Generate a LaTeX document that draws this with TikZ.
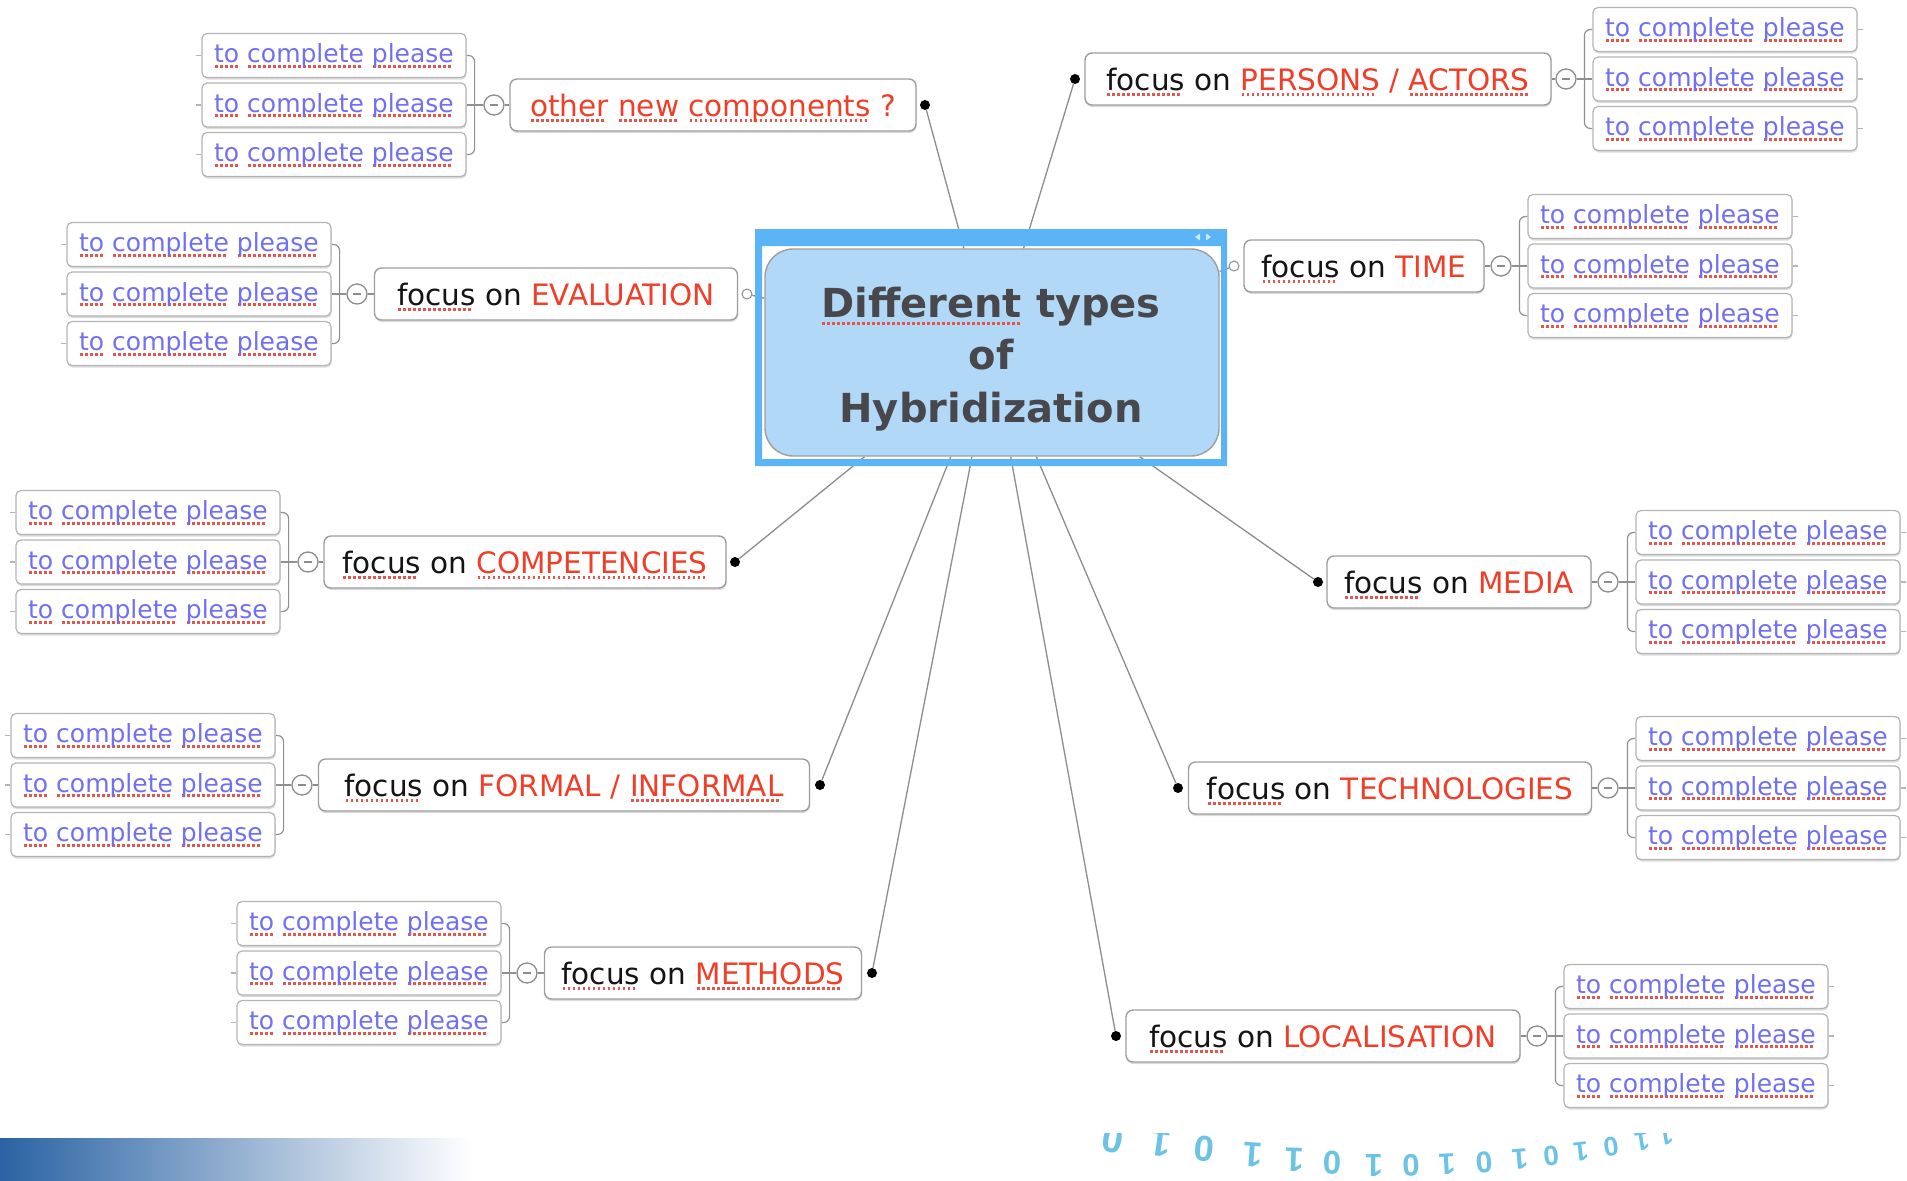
\documentclass[tikz,border=0pt]{standalone}
\usepackage{fontspec}
\setmainfont{DejaVu Sans}
\newfontfamily\bitfont{Liberation Sans}
\usetikzlibrary{shadows,backgrounds}

\definecolor{leafblue}{RGB}{112,112,242}
\definecolor{keyred}{RGB}{240,62,40}
\definecolor{inkblack}{RGB}{20,20,20}
\definecolor{squigred}{RGB}{228,86,76}
\definecolor{boxgray}{RGB}{158,158,158}
\definecolor{leafgray}{RGB}{180,180,180}
\definecolor{linkgray}{RGB}{140,140,140}
\definecolor{hubfill}{RGB}{178,216,248}
\definecolor{hubtext}{RGB}{72,72,76}
\definecolor{framblue}{RGB}{90,180,245}
\definecolor{barblue}{RGB}{42,99,163}
\definecolor{digitblue}{RGB}{108,195,227}

% dotted spell-check style underline under one word
\newsavebox\squigbox
\newcommand\sq[1]{\sbox\squigbox{#1}\leavevmode
  \rlap{\raisebox{-0.2em}[0pt][0pt]{\color{squigred}\hbox to \wd\squigbox{%
    \leaders\hbox to 5pt{\hss\rule{2.8pt}{2.6pt}\hss}\hfill}}}\usebox\squigbox}
\newcommand\leaftext{\sq{to} \sq{complete} \sq{please}}

% three child boxes of one branch: prefix, x, middle y
\newcommand\leafgroup[3]{%
  \node[leaf] (#1a) at (#2,#3-49.5) {\leaftext};
  \node[leaf] (#1b) at (#2,#3) {\leaftext};
  \node[leaf] (#1c) at (#2,#3+49.5) {\leaftext};}

\begin{document}
\begin{tikzpicture}[x=1pt,y=-1pt,
  leaf/.style={draw=leafgray, line width=1.2pt, fill=white, rounded corners=5pt,
    minimum width=264pt, minimum height=44pt, inner sep=0pt,
    text height=20pt, text depth=6pt, font=\fontsize{25}{30}\selectfont, text=leafblue,
    drop shadow={shadow xshift=0.5pt, shadow yshift=-2pt, opacity=0.14, fill=black}},
  branch/.style={draw=boxgray, line width=1.4pt, fill=white, rounded corners=7pt,
    minimum height=52pt, inner sep=0pt, text height=30pt, text depth=8pt,
    font=\fontsize{29.5}{34}\selectfont, text=inkblack,
    drop shadow={shadow xshift=0.5pt, shadow yshift=-2pt, opacity=0.14, fill=black}},
  hub/.style={draw=boxgray, line width=1.4pt, fill=hubfill, rounded corners=28pt,
    minimum width=454pt, minimum height=207pt, inner sep=0pt},
  hubfont/.style={font=\bfseries\fontsize{40}{46}\selectfont, text=hubtext, inner sep=0pt},
  toggle/.style={circle, draw=linkgray, line width=1.3pt, fill=white, minimum size=20pt,
    inner sep=0pt, path picture={\draw[linkgray, line width=2pt]
      ([xshift=-4pt]path picture bounding box.center) --
      ([xshift=4pt]path picture bounding box.center);}},
  jdot/.style={circle, fill=black, minimum size=10pt, inner sep=0pt},
  hdot/.style={circle, draw=linkgray, line width=1pt, fill=white, minimum size=10pt, inner sep=0pt},
  link/.style={linkgray, line width=1.3pt},
  twig/.style={leafgray!80!black, line width=1.2pt, rounded corners=6pt},
  stub/.style={leafgray, line width=1.1pt},
  digit/.style={text=digitblue, inner sep=0pt}
]
\useasboundingbox (0,0) rectangle (1907,1181);

% ---- gradient bar at the foot ----
\shade[left color=barblue, middle color=barblue!50!white, right color=white]
  (0,1138) rectangle (472,1181);

% ---- arc of binary digits ----
\begin{scope}
  \clip (800,1133) rectangle (1800,1181);
  \foreach \x/\y/\r/\s/\d [count=\i] in {
      1113/1140/170/38/0, 1161/1144/172/37/1, 1204/1149/174/36/0, 1253/1155/176/35/1,
      1295/1160/178/34/1, 1332/1163/179/33/0, 1374/1165/180/32/1, 1411/1165/181/31/0,
      1447/1164/183/30/1, 1484/1162/184/30/0, 1520/1159/185/29/1, 1551/1156/186/28/0,
      1581/1152/187/27/1, 1611/1147/188/27/0, 1642/1141/189/26/1, 1666/1136/190/25/1}
    \node[digit, rotate=\r, font=\bitfont\bfseries\fontsize{\s}{\s}\selectfont]
      (bit\i) at (\x,\y) {\d};
\end{scope}

% ---- central topic ----
\node[hub] (hub) at (992,352.5) {};
\fill[framblue, even odd rule] (755,229) rectangle (1227,466) (762,246) rectangle (1221,459);
\fill[white!70!framblue] (1195,237) -- (1200,233.5) -- (1200,240.5) -- cycle;
\fill[white!70!framblue] (1206,233.5) -- (1211,237) -- (1206,240.5) -- cycle;
\node[hubfont, anchor=base] (hubl1) at (991,317) {\sq{Different} types};
\node[hubfont, anchor=base] (hubl2) at (991,369) {of};
\node[hubfont, anchor=base] (hubl3) at (991,422) {Hybridization};

% ---- main branches ----
\node[branch, minimum width=406pt] (A) at (713,105)
  {\textcolor{keyred}{\sq{other} \sq{new} \sq{components} ?}};
\node[branch, minimum width=466pt] (B) at (1318,79)
  {\sq{focus} on \textcolor{keyred}{\sq{PERSONS} / \sq{ACTORS}}};
\node[branch, minimum width=240pt] (C) at (1364,266)
  {\sq{focus} on \textcolor{keyred}{TIME}};
\node[branch, minimum width=363pt] (D) at (556,294)
  {\sq{focus} on \textcolor{keyred}{EVALUATION}};
\node[branch, minimum width=402pt] (E) at (525,562)
  {\sq{focus} on \textcolor{keyred}{\sq{COMPETENCIES}}};
\node[branch, minimum width=264pt] (F) at (1459,582)
  {\sq{focus} on \textcolor{keyred}{MEDIA}};
\node[branch, minimum width=491pt] (G) at (564,785)
  {\sq{focus} on \textcolor{keyred}{FORMAL / \sq{INFORMAL}}};
\node[branch, minimum width=403pt] (H) at (1390,788)
  {\sq{focus} on \textcolor{keyred}{TECHNOLOGIES}};
\node[branch, minimum width=317pt] (I) at (703,973)
  {\sq{focus} on \textcolor{keyred}{\sq{METHODS}}};
\node[branch, minimum width=394pt] (J) at (1323,1036)
  {\sq{focus} on \textcolor{keyred}{LOCALISATION}};

% ---- attachment dots on the hub side ----
\node[jdot] (Adot) at (925,105) {};
\node[jdot] (Bdot) at (1075,79) {};
\node[hdot] (Cdot) at (1234,266) {};
\node[hdot] (Ddot) at (747,294) {};
\node[jdot] (Edot) at (735,562) {};
\node[jdot] (Fdot) at (1318,582) {};
\node[jdot] (Gdot) at (820,785) {};
\node[jdot] (Hdot) at (1178,788) {};
\node[jdot] (Idot) at (872,973) {};
\node[jdot] (Jdot) at (1116,1036) {};

% ---- collapse toggles ----
\node[toggle] (Atog) at (494,105) {};
\node[toggle] (Btog) at (1566,79) {};
\node[toggle] (Ctog) at (1501,266) {};
\node[toggle] (Dtog) at (357,294) {};
\node[toggle] (Etog) at (308,562) {};
\node[toggle] (Ftog) at (1608,582) {};
\node[toggle] (Gtog) at (302,785) {};
\node[toggle] (Htog) at (1608,788) {};
\node[toggle] (Itog) at (527,973) {};
\node[toggle] (Jtog) at (1537,1036) {};

% ---- child boxes ----
\leafgroup{A}{334}{105}
\leafgroup{B}{1725}{79}
\leafgroup{C}{1660}{266}
\leafgroup{D}{199}{294}
\leafgroup{E}{148}{562}
\leafgroup{F}{1768}{582}
\leafgroup{G}{143}{785}
\leafgroup{H}{1768}{788}
\leafgroup{I}{369}{973}
\leafgroup{J}{1696}{1036}

% ---- connectors ----
\begin{scope}[on background layer]
  \foreach \k in {A,B,C,D,E,F,G,H,I,J} {
    \draw[link] (\k dot) -- (hub);
    \draw[link] (\k tog) -- (\k);
    \draw[twig] (\k tog) -- (\k b);
  }
  % children on the left of their branch
  \foreach \k in {A,D,E,G,I} {
    \draw[twig] (\k a.east) -- ++(8,0) |- (\k c.east);
    \foreach \c in {a,b,c} \draw[stub] (\k\c.west) -- ++(-5,0);
  }
  % children on the right of their branch
  \foreach \k in {B,C,F,H,J} {
    \draw[twig] (\k a.west) -- ++(-8,0) |- (\k c.west);
    \foreach \c in {a,b,c} \draw[stub] (\k\c.east) -- ++(5,0);
  }
\end{scope}
\end{tikzpicture}
\end{document}
